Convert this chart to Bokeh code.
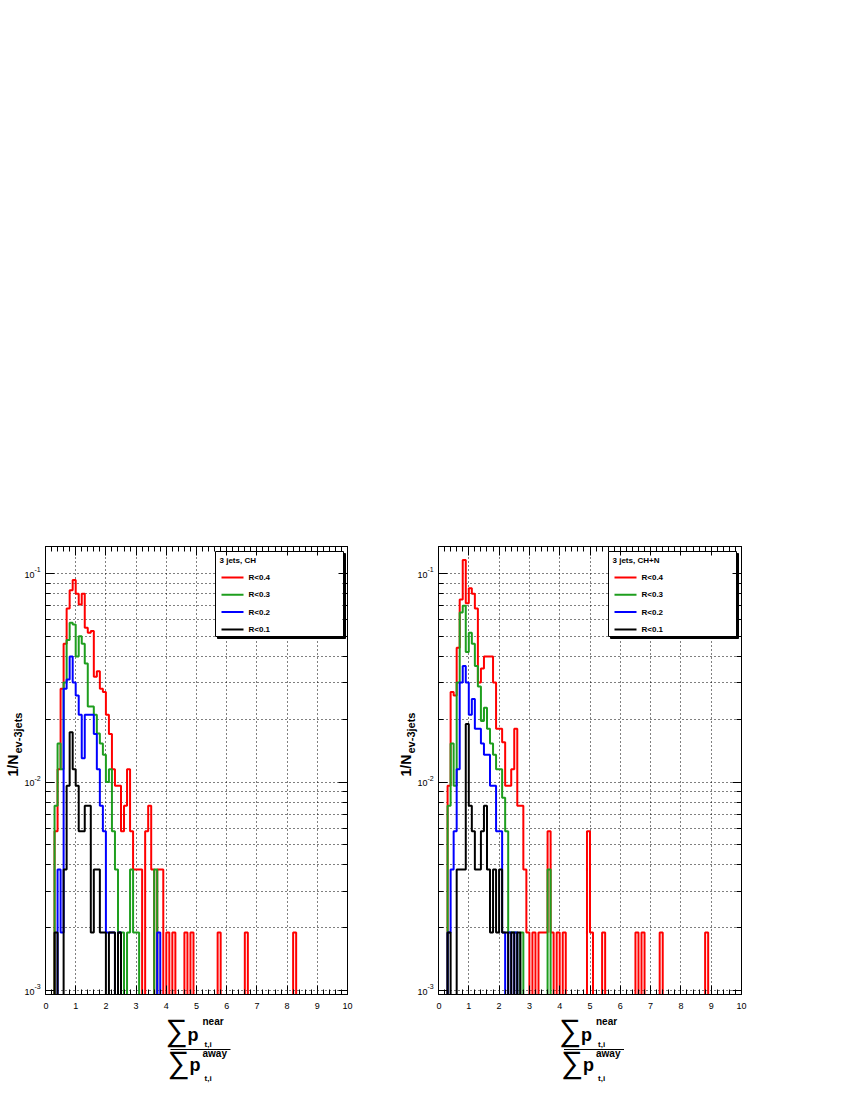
import math
from bokeh.plotting import figure
from bokeh.models import (Range1d, LinearAxis, LogAxis, FixedTicker, Label,
                          CustomJSTickFormatter, BasicTickFormatter)
from bokeh.layouts import row, column
from bokeh.embed import file_html
from bokeh.resources import INLINE
from bokeh.core.properties import value

# ---------------- data ----------------
BIN_WIDTH = 0.1
X_TICKS = [0, 1, 2, 3, 4, 5, 6, 7, 8, 9, 10]
Y_MAJOR = [1e-3, 1e-2, 1e-1]
Y_MAJOR_EXP = ["-3", "-2", "-1"]
SERIES_NAMES = ["R<0.4", "R<0.3", "R<0.2", "R<0.1"]
SERIES_COLORS = ["#ff0000", "#1e9e1e", "#0000ff", "#000000"]
PANEL_TITLES = ["3 jets, CH", "3 jets, CH+N"]
Y_LABEL_MAIN = "1/N"
Y_LABEL_SUB = "ev-3jets"

# bin contents (bin i covers [0.1*i, 0.1*(i+1)]), panel "CH"
CH_R04 = [0, 0, 0, 0.0058, 0.0115, 0.028, 0.046, 0.068, 0.083, 0.093,
          0.080, 0.071, 0.080, 0.055, 0.052, 0.053, 0.032, 0.034, 0.028, 0.027,
          0.021, 0.017, 0.0115, 0.0096, 0.0096, 0.0058, 0.0077, 0.0115, 0.0058, 0.0038,
          0.0038, 0.0038, 0, 0.0058, 0.0077, 0.0038, 0, 0.0038, 0.0038, 0,
          0.0019, 0, 0.0019, 0, 0, 0, 0.0019, 0, 0.0019, 0,
          0, 0, 0, 0, 0, 0, 0, 0.0019, 0, 0,
          0, 0, 0, 0, 0, 0, 0.0019, 0, 0, 0,
          0, 0, 0, 0, 0, 0, 0, 0, 0, 0,
          0, 0, 0.0019]
CH_R03 = [0, 0, 0, 0.0077, 0.0153, 0.0115, 0.030, 0.048, 0.058, 0.057,
          0.040, 0.050, 0.046, 0.037, 0.023, 0.023, 0.021, 0.0171, 0.0153, 0.0135,
          0.0100, 0.0115, 0.0058, 0.0038, 0.0019, 0.0019, 0, 0.0019, 0.0038, 0.0019,
          0.0019, 0, 0, 0, 0, 0, 0.0038]
CH_R02 = [0, 0, 0, 0, 0.0038, 0.0019, 0.028, 0.031, 0.040, 0.030,
          0.026, 0.021, 0.013, 0.021, 0.021, 0.021, 0.017, 0.0115, 0.0077, 0.0058,
          0.0019, 0.0019, 0.0019, 0, 0.0019, 0, 0, 0, 0, 0,
          0, 0, 0, 0, 0, 0, 0, 0.0019]
CH_R01 = [0, 0, 0, 0.0019, 0, 0, 0.0038, 0.0096, 0.0173, 0.0115,
          0.0096, 0.0058, 0.0058, 0.0077, 0.0077, 0.0019, 0.0038, 0.0038, 0.0019, 0.0019,
          0, 0.0019, 0.0019, 0, 0.0019]

# panel "CH+N"
CHN_R04 = [0, 0, 0, 0.0096, 0.027, 0.026, 0.044, 0.075, 0.116, 0.072,
           0.085, 0.080, 0.068, 0.030, 0.035, 0.040, 0.040, 0.040, 0.030, 0.018,
           0.018, 0.0155, 0.0096, 0.0096, 0.0115, 0.018, 0.0077, 0.0077, 0.0038, 0.0019,
           0, 0.0019, 0, 0.0019, 0.0019, 0.0019, 0.0058, 0.0019, 0, 0.0019,
           0, 0.0019, 0, 0, 0, 0, 0, 0, 0, 0.0058,
           0.0019, 0, 0, 0, 0.0019, 0, 0, 0, 0, 0,
           0, 0, 0, 0, 0, 0.0019, 0, 0.0019, 0, 0,
           0, 0, 0, 0.0019, 0, 0, 0, 0, 0, 0,
           0, 0, 0, 0, 0, 0, 0, 0, 0.0019]
CHN_R03 = [0, 0, 0, 0.0077, 0.0153, 0.0096, 0.030, 0.065, 0.070, 0.042,
           0.052, 0.046, 0.036, 0.0287, 0.0196, 0.0227, 0.018, 0.0153, 0.0135, 0.0115,
           0.0115, 0.0084, 0.0058, 0.0019, 0.0019, 0.0019, 0, 0.0019, 0, 0,
           0, 0, 0, 0, 0, 0, 0.0038]
CHN_R02 = [0, 0, 0, 0.0019, 0.0038, 0.0058, 0.0115, 0.030, 0.036, 0.030,
           0.021, 0.025, 0.018, 0.018, 0.0153, 0.0135, 0.0135, 0.0096, 0.0096, 0.0058,
           0.0058, 0.0019, 0, 0.0019, 0, 0.0019]
CHN_R01 = [0, 0, 0, 0.0019, 0, 0, 0.0038, 0.0038, 0.0038, 0.019,
           0.0077, 0.0058, 0.0038, 0.0038, 0.0058, 0.0077, 0.0038, 0.0019, 0.0038, 0.0019,
           0.0038, 0.0019, 0.0019, 0, 0.0019, 0, 0.0019]

PANELS = [[CH_R04, CH_R03, CH_R02, CH_R01], [CHN_R04, CHN_R03, CHN_R02, CHN_R01]]

# ---------------- layout (page pixels) ----------------
FONT = "Liberation Sans"
FRAME_TOP, FRAME_BOT = 546, 994
FRAME_H = FRAME_BOT - FRAME_TOP
DECADE_PX = 208.5
LOG_HI = -1 + (573 - FRAME_TOP) / DECADE_PX
LOG_LO = LOG_HI - FRAME_H / DECADE_PX
Y_LO, Y_HI = 10 ** LOG_LO, 10 ** LOG_HI
MAIN_BOTTOM = 20
MAIN_H = FRAME_BOT + MAIN_BOTTOM
LAB_H = 80

# per panel: left text strip [sx, mx), main figure [mx, ex), frame [fl, fr]
GEOM = [dict(sx=0, mx=43, fl=45, fr=347, ex=395),
        dict(sx=395, mx=436, fl=438, fr=741, ex=800)]

floor_val = 1e-7
EMPTY_FMT = "return ''"


def outline(vals):
    xs, ys = [0.0], [floor_val]
    for i, v in enumerate(vals):
        h = v if v > 0 else floor_val
        xs += [i * BIN_WIDTH, (i + 1) * BIN_WIDTH]
        ys += [h, h]
    xs.append(len(vals) * BIN_WIDTH)
    ys.append(floor_val)
    return xs, ys


def y_minor():
    out = []
    for e in (-4, -3, -2, -1):
        for m in range(2, 10):
            v = m * 10.0 ** e
            if Y_LO <= v <= Y_HI:
                out.append(v)
    return out


def x_minor():
    return [round(i * 0.2, 2) for i in range(0, 51) if i % 5 != 0]


def style_axis(ax):
    ax.axis_line_color = "black"
    ax.major_tick_in = 9
    ax.major_tick_out = 0
    ax.minor_tick_in = 5
    ax.minor_tick_out = 0
    ax.major_tick_line_color = "black"
    ax.minor_tick_line_color = "black"


def blank_fig(w, h):
    q = figure(frame_width=w, frame_height=h, x_range=Range1d(0, w), y_range=Range1d(0, h),
               x_axis_type=None, y_axis_type=None, output_backend="svg",
               toolbar_location=None, min_border_left=0, min_border_right=0,
               min_border_top=0, min_border_bottom=0)
    q.outline_line_color = None
    q.grid.visible = False
    q.background_fill_color = "white"
    q.border_fill_color = "white"
    return q


def put(q, h, x, Y, t, size, bold=True, align="left", angle=0.0):
    q.text(x=[x], y=[h - Y], text=[t], text_font=value(FONT), text_font_size=size,
           text_font_style="bold" if bold else "normal", text_align=align,
           text_baseline="middle", text_color="black", angle=angle)


def make_strip(idx):
    g = GEOM[idx]
    w = g["mx"] - g["sx"]
    q = blank_fig(w, MAIN_H)
    ox = g["sx"]
    # y tick labels 10^n, placed at the axis' own log positions
    for v, e in zip(Y_MAJOR, Y_MAJOR_EXP):
        Yp = FRAME_TOP + (LOG_HI - math.log10(v)) * DECADE_PX
        put(q, MAIN_H, g["fl"] - 11 - ox, Yp + 1, "10", "9px", bold=False, align="right")
        put(q, MAIN_H, g["fl"] - 11 - ox, Yp - 4, e, "7px", bold=False, align="left")
    # y axis title (rotated)
    Xl = g["fl"] - 33 - ox
    put(q, MAIN_H, Xl, 776, Y_LABEL_MAIN, "14px", angle=math.pi / 2)
    put(q, MAIN_H, Xl + 5, 753, Y_LABEL_SUB, "11px", angle=math.pi / 2)
    return q


def make_main(idx):
    g = GEOM[idx]
    fw = g["fr"] - g["fl"]
    bl = g["fl"] - g["mx"]
    br = g["ex"] - g["fr"]
    ppu = fw / 10.0

    def xd(X):
        return (X - g["fl"]) / ppu

    def yd(Y):
        return 10 ** (LOG_HI - (Y - FRAME_TOP) / DECADE_PX)

    p = figure(width=g["ex"] - g["mx"], height=MAIN_H,
               x_range=Range1d(0, 10), y_range=Range1d(Y_LO, Y_HI), y_axis_type="log",
               output_backend="svg", toolbar_location=None,
               min_border_left=bl, min_border_right=br,
               min_border_top=FRAME_TOP, min_border_bottom=MAIN_BOTTOM)
    p.background_fill_color = "white"
    p.border_fill_color = "white"
    p.outline_line_color = "black"
    p.outline_line_width = 1

    ym = y_minor()
    xt = FixedTicker(ticks=X_TICKS, minor_ticks=x_minor())
    yt = FixedTicker(ticks=Y_MAJOR, minor_ticks=ym)

    for ax in p.xaxis:
        ax.ticker = xt
        ax.formatter = BasicTickFormatter()
        ax.major_label_text_font = FONT
        ax.major_label_text_font_size = "9px"
        ax.major_label_text_color = "black"
        ax.major_label_standoff = 8
        style_axis(ax)
    for ax in p.yaxis:
        ax.ticker = yt
        ax.formatter = CustomJSTickFormatter(code=EMPTY_FMT)
        ax.major_label_standoff = 0
        style_axis(ax)

    top_ax = LinearAxis(ticker=xt, formatter=CustomJSTickFormatter(code=EMPTY_FMT),
                        major_label_standoff=0)
    style_axis(top_ax)
    p.add_layout(top_ax, "above")
    right_ax = LogAxis(ticker=yt, formatter=CustomJSTickFormatter(code=EMPTY_FMT),
                       major_label_standoff=0)
    style_axis(right_ax)
    p.add_layout(right_ax, "right")

    p.xgrid.ticker = FixedTicker(ticks=X_TICKS[1:-1])
    p.ygrid.ticker = FixedTicker(ticks=Y_MAJOR + ym)
    for gr in (p.xgrid, p.ygrid):
        gr.grid_line_color = "black"
        gr.grid_line_width = 1
        gr.grid_line_dash = "1 3"

    # histograms
    for vals, col in zip(PANELS[idx], SERIES_COLORS):
        xs, ys = outline(vals)
        p.line(xs, ys, line_color=col, line_width=2)

    # legend box (shadow + box)
    L, R, T, B = g["fl"] + 170, g["fl"] + 298, 551, 636
    p.quad(left=[xd(L + 2)], right=[xd(R + 2)], top=[yd(T + 2)], bottom=[yd(B + 2)],
           fill_color="black", line_color="black")
    p.quad(left=[xd(L)], right=[xd(R)], top=[yd(T)], bottom=[yd(B)],
           fill_color="white", line_color="black", line_width=1)
    p.add_layout(Label(x=xd(L + 4), y=yd(560), text=PANEL_TITLES[idx], text_font=FONT,
                       text_font_size="8px", text_font_style="bold", text_baseline="middle",
                       text_align="left", text_color="black"))
    for k, (nm, col) in enumerate(zip(SERIES_NAMES, SERIES_COLORS)):
        Y = 577 + k * 17.3
        p.line([xd(L + 6), xd(L + 28)], [yd(Y), yd(Y)], line_color=col, line_width=2)
        p.add_layout(Label(x=xd(L + 33), y=yd(Y), text=nm, text_font=FONT,
                           text_font_size="8px", text_font_style="bold",
                           text_baseline="middle", text_align="left", text_color="black"))
    return p


def make_fraction(idx):
    g = GEOM[idx]
    w = g["ex"] - g["mx"]
    q = blank_fig(w, LAB_H)
    top = MAIN_H
    cx = (g["fl"] + g["fr"]) / 2.0 - g["mx"]

    def tx(x, Y, t, size, bold=True):
        put(q, LAB_H, x, Y - top, t, size, bold=bold)

    tx(cx - 33, 1030, "\u2211", "31px", bold=False)
    tx(cx - 11, 1034, "p", "18px")
    tx(cx + 4, 1021, "near", "10px")
    tx(cx + 6, 1044, "t,i", "8px")
    tx(cx - 31, 1062, "\u2211", "31px", bold=False)
    tx(cx - 9, 1064, "p", "18px")
    tx(cx + 4, 1053, "away", "10px")
    tx(cx + 6, 1078, "t,i", "8px")
    q.line([cx - 28, cx + 32], [LAB_H - (1049 - top)] * 2, line_color="black", line_width=1.2)
    return q


panels = []
for i in range(2):
    panels.append(make_strip(i))
    panels.append(column(make_main(i), make_fraction(i), spacing=0))
layout = row(*panels, spacing=0)
open("out.html", "w").write(file_html(layout, INLINE))
